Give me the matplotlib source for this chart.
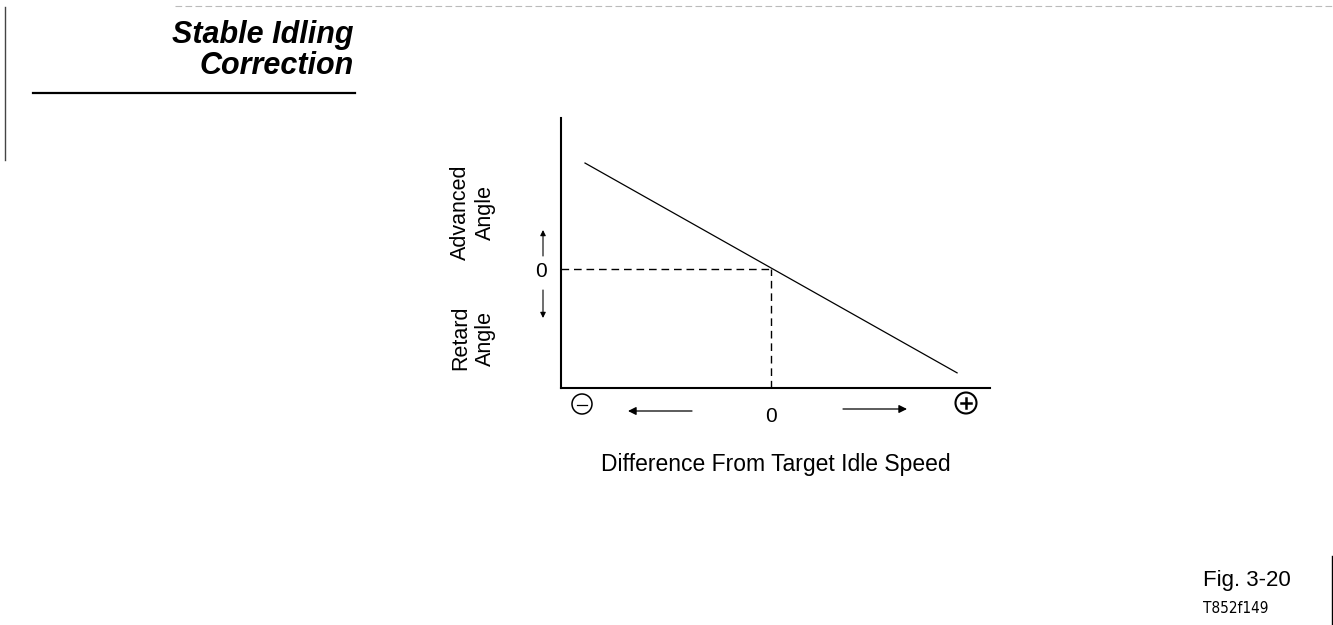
import matplotlib
matplotlib.use("Agg")
import matplotlib.pyplot as plt
from matplotlib.patches import Circle

plt.rcParams['font.family'] = ['Liberation Sans', 'DejaVu Sans']

# ---- data (schematic) ----
line_x = [-1.0, 1.0]          # difference from target idle speed (normalised)
line_y = [1.0, -0.98]         # ignition angle correction (normalised)
zero_x = 0.0
zero_y = 0.0
x_limits = (-1.129, 1.177)
y_limits = (-1.123, 1.425)
title_lines = ["Stable Idling", "Correction"]
xlabel = "Difference From Target Idle Speed"
ylabel_top = "Advanced\nAngle"
ylabel_bottom = "Retard\nAngle"
fig_label = "Fig. 3-20"
fig_code = "T852f149"

W, H = 1333, 625
fig = plt.figure(figsize=(W / 100, H / 100), dpi=100)

# overlay in pixel coordinates for annotations
ov = fig.add_axes([0, 0, 1, 1])
ov.set_xlim(0, W)
ov.set_ylim(H, 0)
ov.axis('off')

# chart axes
L, R, T, B = 561, 990, 118, 388
ax = fig.add_axes([L / W, 1 - B / H, (R - L) / W, (B - T) / H])
ax.set_facecolor('none')
ax.set_xlim(*x_limits)
ax.set_ylim(*y_limits)
for s in ['top', 'right']:
    ax.spines[s].set_visible(False)
for s in ['left', 'bottom']:
    ax.spines[s].set_linewidth(1.5)
    ax.spines[s].set_color('black')

ax.plot(line_x, line_y, color='black', lw=0.9)
ax.plot([x_limits[0], zero_x], [zero_y, zero_y], color='black', lw=1.0,
        ls=(0, (5.5, 3.5)))
ax.plot([zero_x, zero_x], [y_limits[0], zero_y], color='black', lw=1.0,
        ls=(0, (5.5, 3.5)))

ax.set_xticks([zero_x])
ax.set_xticklabels(['0'])
ax.set_yticks([zero_y])
ax.set_yticklabels(['0'])
ax.tick_params(axis='both', length=0, labelsize=15)
ax.tick_params(axis='y', pad=10)
ax.tick_params(axis='x', pad=14)

# header
ov.text(354, 43, title_lines[0], ha='right', va='baseline', fontsize=22,
        fontweight='bold', fontstyle='italic')
ov.text(354, 74, title_lines[1], ha='right', va='baseline', fontsize=22,
        fontweight='bold', fontstyle='italic')
ov.plot([33, 355], [93, 93], color='black', lw=1.6)

# y labels
ov.text(473, 212, ylabel_top, rotation=90, ha='center', va='center',
        multialignment='center', fontsize=15.5, linespacing=1.2)
ov.text(473, 338, ylabel_bottom, rotation=90, ha='center', va='center',
        multialignment='center', fontsize=15.5, linespacing=1.2)

# y arrows
arr = dict(arrowstyle='-|>', lw=0.8, color='black', mutation_scale=8,
           shrinkA=0, shrinkB=0)
ov.annotate('', xy=(543, 230), xytext=(543, 256), arrowprops=arr)
ov.annotate('', xy=(543, 318), xytext=(543, 290), arrowprops=arr)

# x arrows
arr2 = dict(arrowstyle='-|>', lw=0.9, color='black', mutation_scale=12,
            shrinkA=0, shrinkB=0)
ov.annotate('', xy=(628, 411), xytext=(692, 411), arrowprops=arr2)
ov.annotate('', xy=(907, 409), xytext=(843, 409), arrowprops=arr2)

# minus / plus circles
ov.add_patch(Circle((582, 404), 10, fill=False, lw=1.1, color='black'))
ov.plot([577, 587], [405, 405], color='black', lw=0.9)
ov.add_patch(Circle((966, 403), 10.5, fill=False, lw=1.5, color='black'))
ov.plot([961, 971], [403, 403], color='black', lw=1.8)
ov.plot([966, 966], [398, 408], color='black', lw=1.8)

# x label
ov.text(776, 471, xlabel, ha='center', va='baseline', fontsize=16.5)

# figure id
ov.text(1203, 586, fig_label, ha='left', va='baseline', fontsize=16)
ov.text(1203, 613, fig_code, ha='left', va='baseline', fontsize=11,
        family='DejaVu Sans', fontstretch='condensed')

# page borders
ov.plot([1332, 1332], [556, 625], color='black', lw=1)
ov.plot([5, 5], [7, 160], color='#444444', lw=1)
ov.plot([175, 1333], [6, 6], color='#bbbbbb', lw=0.8, ls=(0, (6, 3)))

fig.savefig('out.png', dpi=100, facecolor='white')
